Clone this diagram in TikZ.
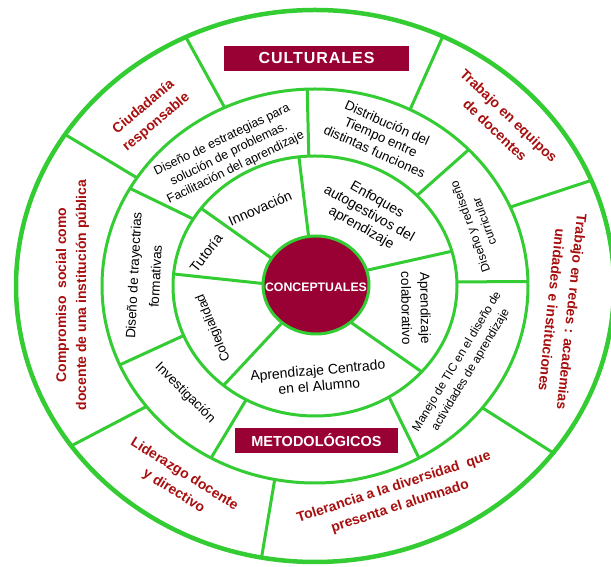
\documentclass[tikz,border=0pt]{standalone}
\usepackage{fontspec}
\setmainfont{Liberation Sans}
\definecolor{ringgreen}{HTML}{33CC33}
\definecolor{boxred}{HTML}{990033}
\definecolor{txtred}{HTML}{A80F0F}
\begin{document}
\begin{tikzpicture}[x=1pt,y=1pt,
  ring/.style={draw=ringgreen, line width=3pt},
  spoke/.style={draw=ringgreen, line width=3pt},
  outtxt/.style={text=txtred, font=\fontsize{14}{20}\selectfont\bfseries, align=center, inner sep=0pt},
  midtxt/.style={font=\fontsize{12.5}{15.5}\selectfont, align=center, inner sep=0pt},
  intxt/.style={font=\fontsize{14}{16}\selectfont, align=center, inner sep=0pt},
  titlebox/.style={fill=boxred, text=white, inner sep=0pt, minimum height=25pt}
]
\useasboundingbox (0,0) rectangle (611,567);
\fill[white] (0,0) rectangle (611,567);
\coordinate (C) at (315,281);
\begin{scope}[shift={(C)}]
  % inner ring spokes
  \foreach \a/\b in {96.8/96.5, 145.4/143.3, 177/174.7, 230.3/229.9, -47.7/-41.3, 18.3/15.5}
    \draw[spoke] (\a:53 and 49) -- (\b:142 and 130);
  % middle ring spokes
  \foreach \a/\b in {92.5/92.1, 149/150.3, 202.4/203.6, 241/240.8, -58.6/-60.8, 1.8/1.3, 44.1/43.8}
    \draw[spoke] (\a:142 and 130) -- (\b:213 and 197);
  % outer ring spokes
  \foreach \a/\b in {115.1/115.6, 146.7/146.7, 217.7/215.4, 259.1/259.7, -38.2/-37.2, 23.6/22.5, 63.5/64.7}
    \draw[spoke] (\a:213 and 197) -- (\b:299 and 276);
  \draw[ring, line width=4.5pt] (0,0) ellipse [x radius=299, y radius=276];
  \draw[ring] (0,0) ellipse [x radius=213, y radius=197];
  \draw[ring] (0,0) ellipse [x radius=142, y radius=130];
  \draw[ring, fill=boxred] (1,1) ellipse [x radius=53, y radius=49];
\end{scope}

% title boxes
\node[titlebox, minimum width=185pt, font=\fontsize{16}{18}\selectfont\bfseries\addfontfeature{LetterSpace=6}] (cult) at (316.5,508.5) {CULTURALES};
\node[titlebox, minimum width=163pt, font=\fontsize{14.5}{16}\selectfont\bfseries] (metod) at (316.5,126.5) {METODOLÓGICOS};
\node[text=white, inner sep=0pt, font=\fontsize{12.3}{14}\selectfont\bfseries] (concep) at (316,280) {CONCEPTUALES};

% outer ring
\node[outtxt, rotate=40] (ciud) at (150,452) {Ciudadanía\\responsable};
\node[outtxt, rotate=-43.5] (equip) at (502,444) {Trabajo en equipos\\de docentes};
\node[outtxt, rotate=-96] (redes) at (562,256) {Trabajo en redes : academias\\unidades e instituciones};
\node[outtxt, rotate=90] (comp) at (72.5,272) {Compromiso~ social como\\docente de una institución pública};
\node[outtxt, rotate=-32] (lider) at (179,84) {Liderazgo docente\\y directivo};
\node[outtxt, rotate=18] (toler) at (397,70) {Tolerancia a la diversidad~ que\\presenta el alumnado};

% middle ring
\node[midtxt, rotate=26] (estr) at (229,413) {Diseño de estrategias para\\solución de problemas.\\Facilitación del aprendizaje};
\node[midtxt, rotate=-24, font=\fontsize{13.3}{15.5}\selectfont] (dist) at (381,430) {Distribución del\\Tiempo entre\\distintas funciones};
\node[midtxt, rotate=110, font=\fontsize{12}{15}\selectfont] (redis) at (477,343) {Diseño y rediseño\\curricular};
\node[midtxt, rotate=59, font=\fontsize{11.8}{16}\selectfont] (tic) at (464,201) {Manejo de TIC en el diseño de\\actividades de aprendizaje};
\node[midtxt, rotate=-45, font=\fontsize{13.5}{15}\selectfont] (inv) at (185,174) {Investigación};
\node[midtxt, rotate=87, font=\fontsize{13.5}{22}\selectfont] (tray) at (144.5,291) {Diseño de trayectrias\\formativas};

% inner ring
\node[intxt, rotate=24] (innov) at (260,359) {Innovación};
\node[intxt, rotate=52] (tut) at (206,314) {Tutoría};
\node[intxt, rotate=112, font=\fontsize{13}{15}\selectfont] (coleg) at (213.5,239) {Colegialidad};
\node[intxt, rotate=5] (centr) at (318.5,189) {Aprendizaje Centrado\\en el Alumno};
\node[intxt, rotate=-89, font=\fontsize{13.5}{19}\selectfont] (colab) at (416,259) {Aprendizaje\\colaborativo};
\node[intxt, rotate=-29.5] (enf) at (369,353) {Enfoques\\autogestivos del\\aprendizaje};
\end{tikzpicture}
\end{document}
